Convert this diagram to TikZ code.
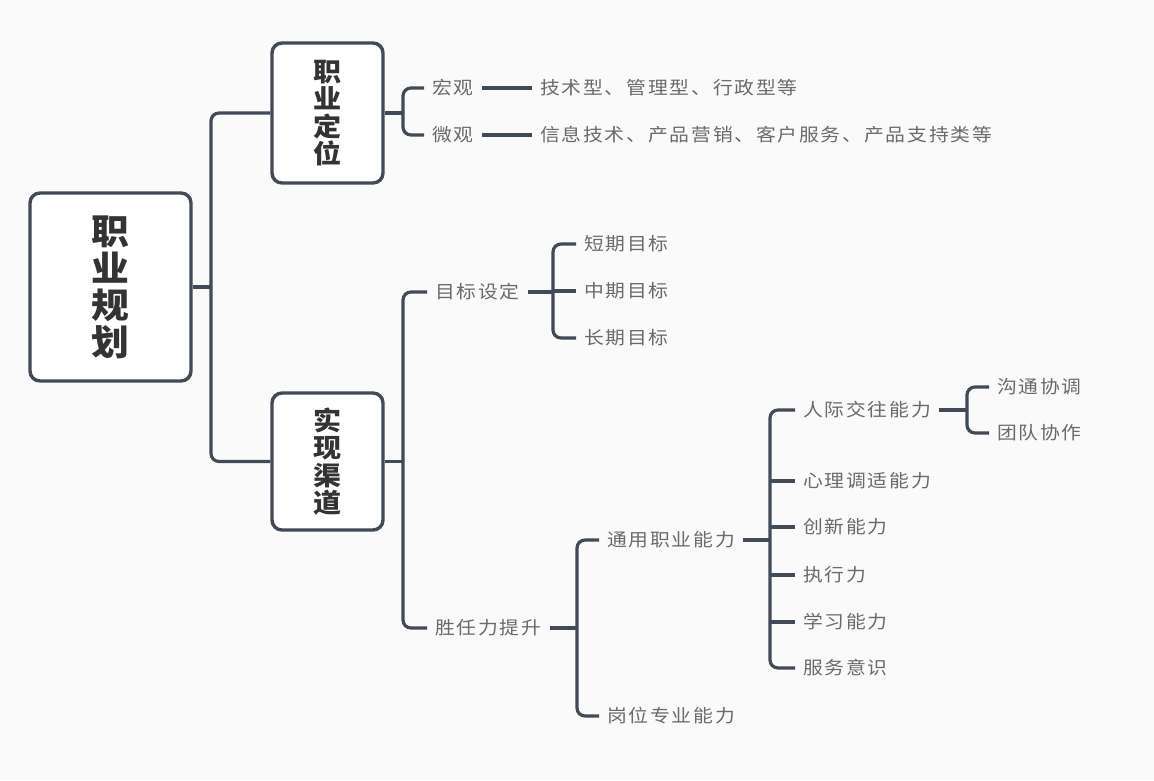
\documentclass[tikz,border=0pt]{standalone}
\usepackage{fontspec}
\newfontfamily\leaffont[FakeStretch=1.1,LetterSpace=10]{Noto Sans CJK SC}
\newfontfamily\boxfont[FakeStretch=1.08]{Noto Sans CJK SC}
\definecolor{linec}{HTML}{434A57}
\definecolor{leafc}{HTML}{6A6A6A}
\definecolor{boxtc}{HTML}{333333}
\definecolor{bgc}{HTML}{FAFAFA}
\tikzset{
  conn/.style={draw=linec,line width=3.2pt,rounded corners=8pt},
  leaf/.style={anchor=west,inner xsep=8pt,inner ysep=2pt,text=leafc,font=\leaffont\fontsize{18}{21}\selectfont},
  mainbox/.style={draw=linec,line width=3.4pt,rounded corners=10pt,fill=white,align=center,text=boxtc,inner sep=0pt},
}
\begin{document}
\begin{tikzpicture}[x=1pt,y=-1pt]
\fill[bgc] (0,0) rectangle (1154,780);
\useasboundingbox (0,0) rectangle (1154,780);

% boxes
\node[mainbox,minimum width=161pt,minimum height=188pt,font=\boxfont\bfseries\fontsize{35}{37}\selectfont] (root) at (110.5,287) {职\\业\\规\\划};
\node[mainbox,minimum width=111pt,minimum height=140pt,font=\boxfont\bfseries\fontsize{26}{27.3}\selectfont] (zy) at (327.5,113) {职\\业\\定\\位};
\node[mainbox,minimum width=111pt,minimum height=137pt,font=\boxfont\bfseries\fontsize{26}{27.3}\selectfont] (sx) at (327.5,461.5) {实\\现\\渠\\道};

% bracket columns
\coordinate (b0) at (211,0);
\coordinate (b1) at (403,0);
\coordinate (b2) at (403,0);
\coordinate (b3) at (553,0);
\coordinate (b4) at (577,0);
\coordinate (b5) at (770,0);
\coordinate (b6) at (967,0);

% leaves
\node[leaf] (hg) at (424,88) {宏观};
\node[leaf] (wg) at (424,135) {微观};
\node[leaf] (hgt) at (532,88) {技术型、管理型、行政型等};
\node[leaf] (wgt) at (532,135) {信息技术、产品营销、客户服务、产品支持类等};

\node[leaf] (mb) at (427,292) {目标设定};
\node[leaf] (dq) at (576,244) {短期目标};
\node[leaf] (zq) at (576,291) {中期目标};
\node[leaf] (cq) at (576,338) {长期目标};

\node[leaf] (sr) at (427,628) {胜任力提升};
\node[leaf] (ty) at (599,540) {通用职业能力};
\node[leaf] (gw) at (599,716) {岗位专业能力};

\node[leaf] (rj) at (795,410) {人际交往能力};
\node[leaf] (xl) at (795,481) {心理调适能力};
\node[leaf] (cx) at (795,527) {创新能力};
\node[leaf] (zx) at (795,575) {执行力};
\node[leaf] (xx) at (795,622) {学习能力};
\node[leaf] (fw) at (795,668) {服务意识};

\node[leaf] (gt) at (989,387) {沟通协调};
\node[leaf] (td) at (989,433) {团队协作};

% root trunk
\draw[conn] (root.east) -- (b0 |- root.east);
\draw[conn] (zy.west) -| (b0 |- sx.west) -- (sx.west);

% 职业定位
\draw[conn] (zy.east) -- (b1 |- zy.east);
\draw[conn] (hg.west) -| (b1 |- wg.west) -- (wg.west);
\draw[conn] (hg.east) -- (hgt.west);
\draw[conn] (wg.east) -- (wgt.west);

% 实现渠道
\draw[conn] (sx.east) -- (b2 |- sx.east);
\draw[conn] (mb.west) -| (b2 |- sr.west) -- (sr.west);

% 目标设定
\draw[conn] (mb.east) -- (b3 |- mb.east);
\draw[conn] (dq.west) -| (b3 |- cq.west) -- (cq.west);
\draw[conn] (b3 |- zq.west) -- (zq.west);

% 胜任力提升
\draw[conn] (sr.east) -- (b4 |- sr.east);
\draw[conn] (ty.west) -| (b4 |- gw.west) -- (gw.west);

% 通用职业能力
\draw[conn] (ty.east) -- (b5 |- ty.east);
\draw[conn] (rj.west) -| (b5 |- fw.west) -- (fw.west);
\draw[conn] (b5 |- xl.west) -- (xl.west);
\draw[conn] (b5 |- cx.west) -- (cx.west);
\draw[conn] (b5 |- zx.west) -- (zx.west);
\draw[conn] (b5 |- xx.west) -- (xx.west);

% 人际交往能力
\draw[conn] (rj.east) -- (b6 |- rj.east);
\draw[conn] (gt.west) -| (b6 |- td.west) -- (td.west);
\end{tikzpicture}
\end{document}
